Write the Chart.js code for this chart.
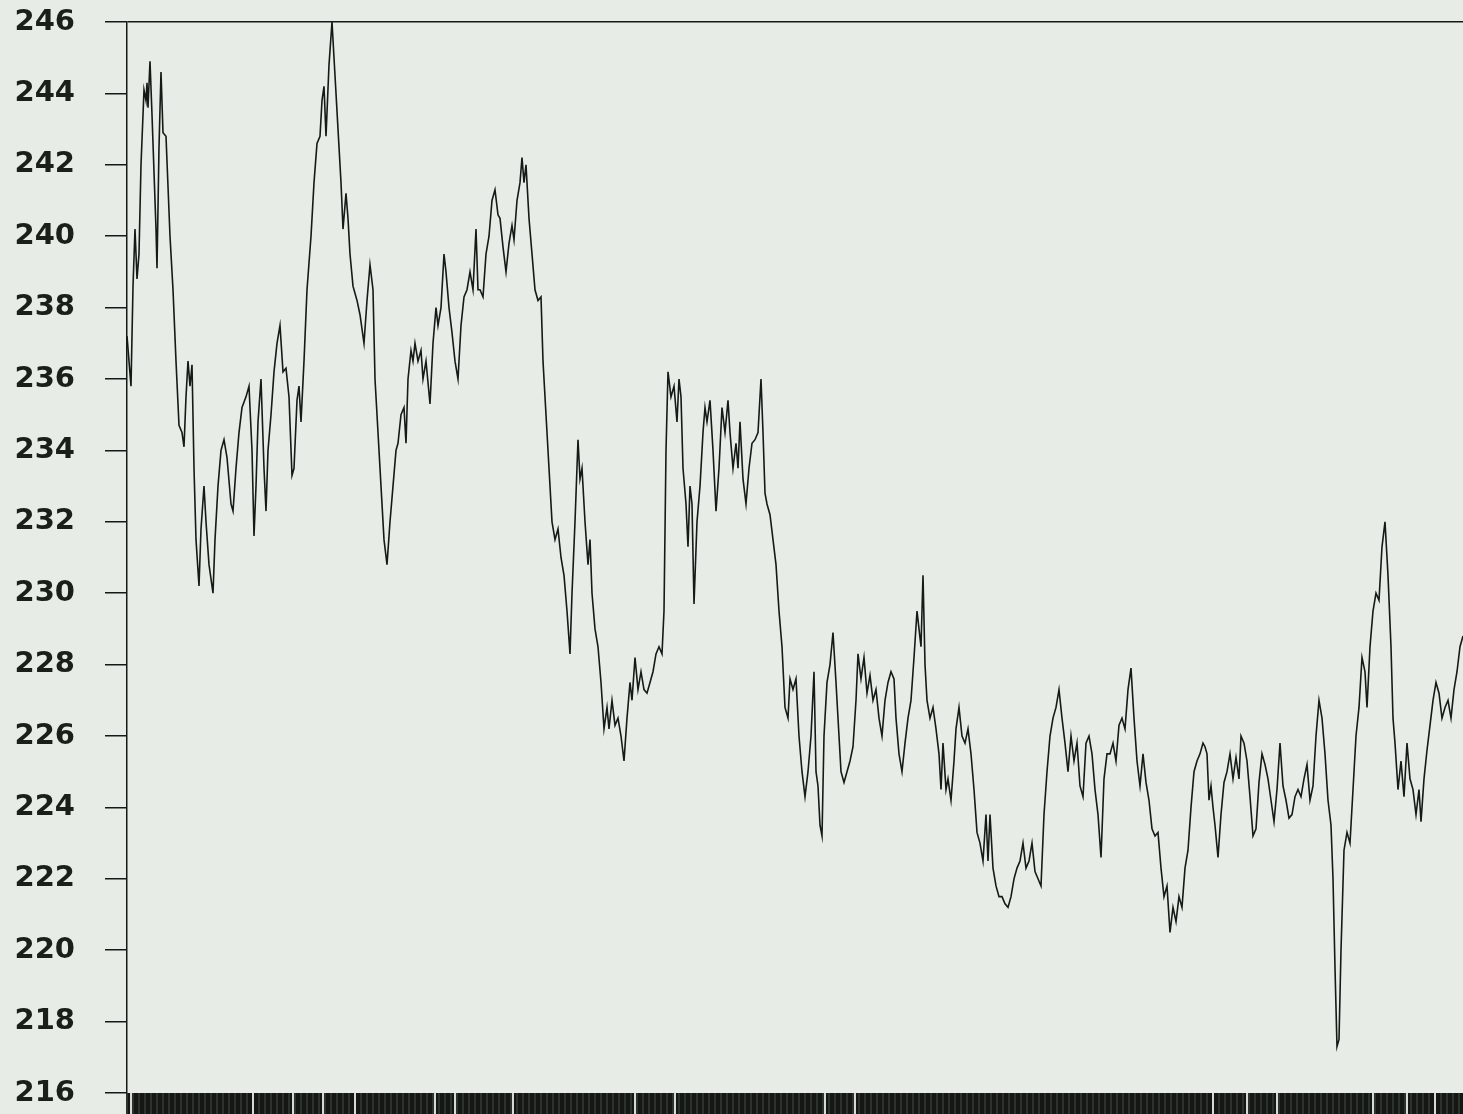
<!DOCTYPE html>
<html>
<head>
<meta charset="utf-8">
<script src="https://cdn.jsdelivr.net/npm/chart.js@4.4.1/dist/chart.umd.min.js"></script>
<style>
  html, body { margin: 0; padding: 0; background: #e7ece6; }
  canvas { display: block; }
</style>
</head>
<body>
<canvas id="voltChart" width="1463" height="1114"></canvas>
<script>
// sample number along the recording
var reading = [
  0, 4, 6, 8, 10, 12, 14, 17, 19, 20, 21, 23, 25, 27, 29, 30, 32, 34, 36, 39,
  43, 46, 49, 52, 55, 57, 59, 61, 63, 65, 67, 69, 72, 74, 77, 79, 82, 86, 88, 91,
  94, 97, 100, 104, 106, 109, 112, 115, 119, 122, 125, 127, 129, 131, 134, 137, 139, 141, 144, 147,
  150, 153, 156, 159, 162, 165, 167, 170, 172, 174, 177, 180, 184, 187, 190, 193, 195, 197, 199, 202,
  205, 208, 211, 214, 216, 219, 221, 223, 226, 230, 233, 237, 240, 243, 246, 248, 251, 254, 257, 260,
  263, 266, 269, 271, 274, 277, 279, 281, 284, 286, 288, 291, 294, 296, 299, 303, 306, 309, 311, 314,
  317, 319, 322, 325, 328, 331, 334, 337, 340, 343, 346, 349, 351, 353, 356, 359, 362, 365, 368, 371,
  373, 376, 379, 382, 385, 387, 390, 393, 395, 397, 399, 402, 405, 408, 411, 414, 416, 419, 422, 425,
  428, 431, 434, 437, 440, 443, 445, 448, 451, 453, 455, 458, 461, 463, 465, 468, 471, 474, 477, 480,
  482, 485, 488, 491, 494, 497, 500, 503, 505, 508, 511, 514, 517, 520, 523, 526, 529, 532, 535, 537,
  539, 541, 544, 547, 550, 552, 554, 556, 559, 561, 563, 565, 567, 570, 573, 576, 578, 580, 583, 586,
  589, 592, 595, 598, 601, 603, 606, 609, 611, 613, 616, 619, 622, 625, 628, 631, 634, 636, 638, 640,
  643, 646, 649, 652, 655, 658, 661, 663, 666, 669, 672, 675, 678, 681, 684, 687, 689, 691, 693, 695,
  697, 700, 703, 706, 709, 712, 714, 717, 720, 723, 726, 729, 731, 734, 737, 740, 743, 746, 749, 752,
  755, 758, 761, 764, 767, 769, 772, 775, 778, 781, 784, 787, 790, 792, 794, 796, 798, 800, 803, 806,
  809, 812, 814, 816, 819, 821, 824, 827, 829, 832, 835, 838, 841, 844, 847, 850, 853, 856, 859, 861,
  863, 866, 869, 872, 875, 878, 881, 884, 887, 890, 893, 896, 899, 902, 905, 908, 911, 914, 917, 920,
  923, 926, 929, 932, 935, 938, 941, 944, 947, 950, 953, 956, 959, 962, 965, 968, 971, 974, 977, 980,
  983, 986, 989, 992, 995, 998, 1001, 1004, 1007, 1010, 1013, 1016, 1019, 1022, 1025, 1028, 1031, 1034, 1037, 1040,
  1043, 1046, 1049, 1052, 1055, 1058, 1061, 1064, 1067, 1070, 1073, 1076, 1078, 1080, 1082, 1084, 1086, 1088, 1091, 1094,
  1097, 1100, 1103, 1106, 1109, 1112, 1114, 1117, 1120, 1123, 1126, 1129, 1132, 1135, 1138, 1141, 1144, 1147, 1150, 1153,
  1156, 1159, 1162, 1165, 1168, 1171, 1174, 1177, 1180, 1183, 1186, 1189, 1192, 1195, 1198, 1201, 1204, 1206, 1208, 1210,
  1212, 1214, 1217, 1220, 1223, 1226, 1229, 1232, 1235, 1238, 1240, 1243, 1246, 1249, 1252, 1255, 1258, 1261, 1264, 1266,
  1268, 1271, 1274, 1277, 1280, 1283, 1286, 1289, 1292, 1294, 1297, 1300, 1303, 1306, 1309, 1312, 1315, 1318, 1321, 1324,
  1327, 1330, 1333, 1336
];

// line voltage at each sample
var volts = [
  237.2, 235.8, 238.6, 240.2, 238.8, 239.5, 242.0, 244.1, 243.8, 244.3, 243.6, 244.9, 243.4, 241.8, 240.2, 239.1, 242.5, 244.6, 242.9, 242.8,
  240.0, 238.5, 236.5, 234.7, 234.5, 234.1, 235.5, 236.5, 235.8, 236.4, 233.5, 231.5, 230.2, 231.8, 233.0, 232.0, 230.8, 230.0, 231.5, 233.0,
  234.0, 234.3, 233.8, 232.5, 232.3, 233.5, 234.5, 235.2, 235.5, 235.8, 234.0, 231.6, 233.0, 234.8, 236.0, 233.5, 232.3, 234.0, 235.0, 236.2,
  237.0, 237.5, 236.2, 236.3, 235.5, 233.3, 233.5, 235.4, 235.8, 234.8, 236.5, 238.5, 240.0, 241.5, 242.6, 242.8, 243.8, 244.2, 242.8, 244.8,
  246.0, 244.5, 243.0, 241.5, 240.2, 241.2, 240.5, 239.5, 238.6, 238.2, 237.8, 237.0, 238.2, 239.2, 238.5, 236.0, 234.5, 233.0, 231.5, 230.8,
  232.0, 233.0, 234.0, 234.2, 235.0, 235.2, 234.2, 236.0, 236.8, 236.5, 237.0, 236.5, 236.8, 236.0, 236.5, 235.3, 237.0, 238.0, 237.5, 238.0,
  239.5, 239.0, 238.0, 237.3, 236.5, 236.0, 237.5, 238.3, 238.5, 239.0, 238.5, 240.2, 238.5, 238.5, 238.3, 239.5, 240.0, 241.0, 241.3, 240.6,
  240.5, 239.7, 239.0, 239.8, 240.3, 239.9, 241.0, 241.5, 242.2, 241.5, 242.0, 240.5, 239.5, 238.5, 238.2, 238.3, 236.5, 235.0, 233.5, 232.0,
  231.5, 231.8, 231.0, 230.5, 229.5, 228.3, 230.0, 232.0, 234.3, 233.2, 233.5, 232.0, 230.8, 231.5, 230.0, 229.0, 228.5, 227.5, 226.2, 226.8,
  226.2, 227.0, 226.3, 226.5, 226.0, 225.3, 226.5, 227.5, 227.0, 228.2, 227.3, 227.8, 227.3, 227.2, 227.5, 227.8, 228.3, 228.5, 228.3, 229.5,
  234.0, 236.2, 235.5, 235.8, 234.8, 236.0, 235.5, 233.5, 232.5, 231.3, 233.0, 232.5, 229.7, 232.0, 233.0, 234.5, 235.2, 234.8, 235.4, 234.0,
  232.3, 233.5, 235.2, 234.5, 235.4, 234.5, 233.5, 234.2, 233.5, 234.8, 233.2, 232.5, 233.5, 234.2, 234.3, 234.5, 236.0, 234.5, 232.8, 232.5,
  232.2, 231.5, 230.8, 229.5, 228.5, 226.8, 226.5, 227.6, 227.3, 227.6, 226.0, 225.0, 224.3, 225.0, 226.0, 227.8, 225.0, 224.6, 223.5, 223.2,
  226.0, 227.5, 228.0, 228.9, 227.5, 226.0, 225.0, 224.7, 225.0, 225.3, 225.7, 227.0, 228.3, 227.6, 228.2, 227.2, 227.7, 227.0, 227.3, 226.5,
  226.0, 227.0, 227.5, 227.8, 227.6, 226.5, 225.5, 225.0, 225.8, 226.5, 227.0, 228.2, 229.5, 229.0, 228.5, 230.5, 228.0, 227.0, 226.5, 226.8,
  226.2, 225.5, 224.5, 225.8, 224.5, 224.8, 224.2, 225.3, 226.2, 226.8, 226.0, 225.8, 226.2, 225.5, 224.5, 223.3, 223.0, 222.5, 223.8, 222.5,
  223.8, 222.3, 221.8, 221.5, 221.5, 221.3, 221.2, 221.5, 222.0, 222.3, 222.5, 223.0, 222.3, 222.5, 223.0, 222.2, 222.0, 221.8, 223.8, 225.0,
  226.0, 226.5, 226.8, 227.3, 226.5, 225.8, 225.0, 226.0, 225.3, 225.8, 224.6, 224.3, 225.8, 226.0, 225.5, 224.5, 223.8, 222.6, 224.8, 225.5,
  225.5, 225.8, 225.3, 226.3, 226.5, 226.2, 227.3, 227.9, 226.5, 225.3, 224.6, 225.5, 224.7, 224.2, 223.4, 223.2, 223.3, 222.3, 221.5, 221.8,
  220.5, 221.2, 220.8, 221.5, 221.2, 222.3, 222.8, 224.0, 225.0, 225.3, 225.5, 225.8, 225.7, 225.5, 224.2, 224.6, 224.0, 223.5, 222.6, 223.8,
  224.7, 225.0, 225.5, 224.8, 225.4, 224.8, 226.0, 225.8, 225.3, 224.3, 223.2, 223.4, 224.7, 225.5, 225.2, 224.8, 224.2, 223.6, 224.5, 225.8,
  224.6, 224.2, 223.7, 223.8, 224.3, 224.5, 224.3, 224.8, 225.2, 224.2, 224.6, 226.0, 227.0, 226.5, 225.5, 224.2, 223.5, 222.0, 219.5, 217.3,
  217.5, 220.0, 222.8, 223.3, 223.0, 224.5, 226.0, 226.8, 228.2, 227.8, 226.8, 228.5, 229.5, 230.0, 229.8, 231.3, 232.0, 230.5, 228.5, 226.5,
  225.8, 224.5, 225.3, 224.3, 225.8, 224.8, 224.5, 223.8, 224.5, 223.6, 224.8, 225.6, 226.3, 227.0, 227.5, 227.2, 226.5, 226.8, 227.0, 226.5,
  227.3, 227.8, 228.5, 228.8
];

// voltage scale
var voltMin = 216;
var voltMax = 246;
var voltStep = 2;

// places where the sample tick strip shows a gap
var stripGaps = [4, 91, 97, 126, 161, 166, 196, 223, 228, 308, 328, 333, 351, 386, 479, 508, 513, 543, 548, 577,
  655, 669, 698, 703, 728, 1051, 1081, 1086, 1113, 1120, 1150, 1246, 1275, 1280, 1308, 1313];

var points = reading.map(function (r, i) { return { x: r, y: volts[i] }; });

var ink = '#161a16';
var paper = '#e7ece6';

var paperFill = {
  id: 'paperFill',
  beforeDraw: function (chart) {
    var c = chart.ctx;
    c.save();
    c.fillStyle = paper;
    c.fillRect(0, 0, chart.width, chart.height);
    c.restore();
  }
};

function isGap(v) {
  for (var i = 0; i < stripGaps.length; i++) {
    if (Math.abs(stripGaps[i] - v) < 1) return true;
  }
  return false;
}

new Chart(document.getElementById('voltChart'), {
  type: 'line',
  data: {
    datasets: [{
      data: points,
      borderColor: ink,
      borderWidth: 1.6,
      pointRadius: 0,
      tension: 0,
      fill: false
    }]
  },
  options: {
    responsive: false,
    animation: false,
    layout: { padding: { top: 22, right: 0, bottom: 0, left: 0 } },
    plugins: {
      legend: { display: false },
      tooltip: { enabled: false }
    },
    scales: {
      x: {
        type: 'linear',
        min: reading[0],
        max: reading[reading.length - 1],
        border: { display: false },
        grid: {
          drawOnChartArea: false,
          drawTicks: true,
          tickLength: 21,
          lineWidth: 2,
          tickColor: function (ctx) {
            if (!ctx.tick) return ink;
            if (isGap(ctx.tick.value)) return '#d5dbd4';
            return (ctx.index % 3 === 0) ? '#2c322c' : '#141714';
          }
        },
        ticks: { display: false, stepSize: 2, autoSkip: false }
      },
      y: {
        min: voltMin,
        max: voltMax,
        border: { display: true, color: ink, width: 1.5 },
        grid: {
          lineWidth: 1.5,
          tickLength: 22,
          tickColor: ink,
          color: function (ctx) {
            return ctx.tick && ctx.tick.value === voltMax ? ink : 'rgba(0,0,0,0)';
          }
        },
        ticks: {
          stepSize: voltStep,
          padding: 30,
          color: '#1a1f1a',
          font: { family: 'DejaVu Sans', weight: 'bold', size: 29 }
        },
        afterFit: function (scale) {
          // labels sit beside the ticks, so no extra room above/below the axis
          scale.width = 127;
          scale.paddingTop = 0;
          scale.paddingBottom = 0;
        }
      }
    }
  },
  plugins: [paperFill]
});
</script>
</body>
</html>
